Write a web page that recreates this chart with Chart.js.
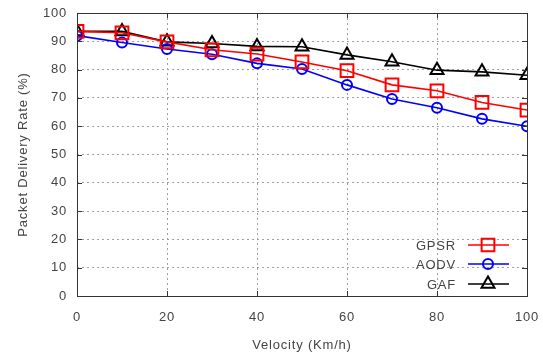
<!DOCTYPE html>
<html>
<head>
<meta charset="utf-8">
<script src="https://cdn.jsdelivr.net/npm/chart.js@4/dist/chart.umd.min.js"></script>
<style>
  html, body { margin: 0; padding: 0; background: #fff; }
  #wrap { width: 543px; height: 357px; }
</style>
</head>
<body>
<div id="wrap"><canvas id="pdr"></canvas></div>
<script>
// velocity (Km/h)
const velocity = [0, 10, 20, 30, 40, 50, 60, 70, 80, 90, 100];
// packet delivery rate (%)
const gpsr = [93.5, 93.0, 89.8, 87.0, 85.5, 82.7, 79.6, 74.6, 72.5, 68.4, 65.7];
const aodv = [92.0, 89.6, 87.3, 85.4, 82.2, 80.2, 74.6, 69.6, 66.5, 62.6, 60.0];
const gaf  = [93.5, 93.5, 89.8, 89.2, 88.2, 88.1, 85.2, 82.8, 79.8, 79.2, 78.0];
const yTicks = [0, 10, 20, 30, 40, 50, 60, 70, 80, 90, 100];
const xTicks = [0, 20, 40, 60, 80, 100];

const FONT = '"Liberation Sans", Arial, sans-serif';
const TXT = '#444';

function series(label, values, color, shape, radius) {
    return {
        label: label,
        data: velocity.map((v, i) => ({ x: v, y: values[i] })),
        borderColor: color,
        backgroundColor: 'rgba(0,0,0,0)',
        borderWidth: 1.6,
        pointStyle: shape,
        pointRadius: radius,
        pointBorderWidth: 2,
        pointBorderColor: color,
        pointBackgroundColor: 'rgba(0,0,0,0)',
        tension: 0
    };
}

// the reference text is a little spaced out
const spacing = {
    id: 'spacing',
    beforeUpdate(chart) { chart.ctx.letterSpacing = '0.8px'; },
    beforeDraw(chart) { chart.ctx.letterSpacing = '0.8px'; }
};

// box, inner tick marks on all four sides + legend inside the plot
const frameAndLegend = {
    id: 'frameAndLegend',
    afterDatasetsDraw(chart) {
        const ctx = chart.ctx;
        const a = chart.chartArea;
        const xs = chart.scales.x, ys = chart.scales.y;
        ctx.save();
        ctx.strokeStyle = '#333';
        ctx.lineWidth = 1;
        ctx.setLineDash([]);
        ctx.strokeRect(Math.round(a.left) + 0.5, Math.round(a.top) + 0.5,
            Math.round(a.right - a.left), Math.round(a.bottom - a.top));
        ctx.beginPath();
        xTicks.forEach(t => {
            const px = Math.round(xs.getPixelForValue(t)) + 0.5;
            ctx.moveTo(px, a.bottom); ctx.lineTo(px, a.bottom - 5);
            ctx.moveTo(px, a.top); ctx.lineTo(px, a.top + 5);
        });
        yTicks.forEach(t => {
            const py = Math.round(ys.getPixelForValue(t)) + 0.5;
            ctx.moveTo(a.left, py); ctx.lineTo(a.left + 5, py);
            ctx.moveTo(a.right, py); ctx.lineTo(a.right - 5, py);
        });
        ctx.stroke();

        // legend
        const rows = [245, 264, 284];
        ctx.font = '13px ' + FONT;
        ctx.textAlign = 'right';
        ctx.textBaseline = 'middle';
        chart.data.datasets.forEach((ds, i) => {
            const y = rows[i];
            ctx.fillStyle = TXT;
            ctx.fillText(ds.label, 456, y + 1);
            ctx.strokeStyle = ds.borderColor;
            ctx.lineWidth = 1.6;
            ctx.beginPath();
            ctx.moveTo(468, y); ctx.lineTo(509, y);
            ctx.stroke();
            ctx.lineWidth = 2;
            ctx.fillStyle = 'rgba(0,0,0,0)';
            Chart.helpers.drawPoint(ctx, {
                pointStyle: ds.pointStyle, radius: ds.pointRadius, rotation: 0, borderWidth: 2
            }, 488, y);
        });
        ctx.restore();
    }
};

const gridColor = c => (c.tick.value === 0 || c.tick.value === 100) ? 'rgba(0,0,0,0)' : '#a0a0a0';

new Chart(document.getElementById('pdr'), {
    type: 'line',
    data: {
        datasets: [
            series('GPSR', gpsr, '#ff0000', 'rect', 9),
            series('AODV', aodv, '#0000ff', 'circle', 5),
            series('GAF', gaf, '#000000', 'triangle', 7.5)
        ]
    },
    options: {
        responsive: true,
        maintainAspectRatio: false,
        animation: false,
        layout: { padding: { left: 12, right: 16, top: 13, bottom: 0 } },
        plugins: {
            legend: { display: false },
            tooltip: { enabled: false }
        },
        scales: {
            x: {
                type: 'linear',
                min: 0, max: 100,
                afterBuildTicks: s => { s.ticks = xTicks.map(v => ({ value: v })); },
                afterFit: s => { s.height = 61; s.paddingLeft = 0; s.paddingRight = 0; },
                border: { display: false, dash: [2, 3] },
                grid: { color: gridColor, lineWidth: 1, drawTicks: false },
                ticks: { color: TXT, font: { family: FONT, size: 13 }, padding: 14, maxRotation: 0 },
                title: {
                    display: true, text: 'Velocity (Km/h)', color: TXT,
                    font: { family: FONT, size: 13 }, padding: { top: 8 }
                }
            },
            y: {
                min: 0, max: 100,
                afterBuildTicks: s => { s.ticks = yTicks.map(v => ({ value: v })); },
                afterFit: s => { s.width = 65; s.paddingTop = 0; s.paddingBottom = 0; },
                border: { display: false, dash: [2, 3] },
                grid: { color: gridColor, lineWidth: 1, drawTicks: false },
                ticks: { color: TXT, font: { family: FONT, size: 13 }, padding: 10 },
                title: {
                    display: true, text: 'Packet Delivery Rate (%)', color: TXT,
                    font: { family: FONT, size: 13 }, padding: { bottom: 6 }
                }
            }
        }
    },
    plugins: [spacing, frameAndLegend]
});
</script>
</body>
</html>
